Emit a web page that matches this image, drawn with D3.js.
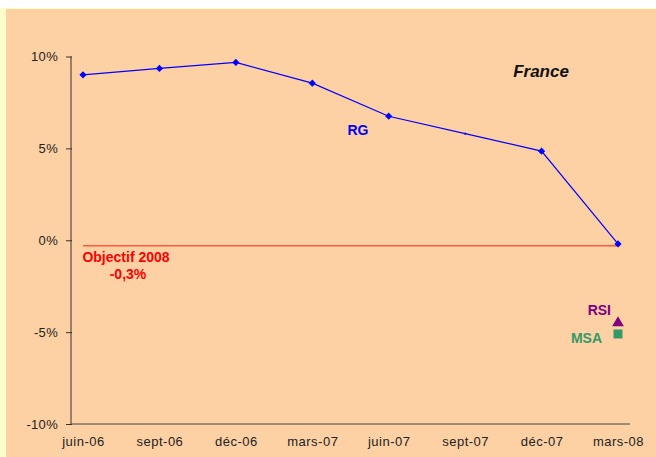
<!DOCTYPE html>
<html>
<head>
<meta charset="utf-8">
<script src="https://cdn.jsdelivr.net/npm/d3@7"></script>
<style>
  body { margin: 0; background: #fff; }
  text { font-family: "Liberation Sans", Arial, sans-serif; }
</style>
</head>
<body>
<svg width="656" height="457"></svg>
<script>
var months = ["juin-06", "sept-06", "déc-06", "mars-07", "juin-07", "sept-07", "déc-07", "mars-08"];
var rgValues = [9.0, 9.35, 9.68, 8.55, 6.75, 5.8, 4.85, -0.2];
var yTicks = [10, 5, 0, -5, -10];
var objectif = -0.3;
var rsiValue = -4.5;
var msaValue = -5.1;

var svg = d3.select("svg");

// background panels
svg.append("rect").attr("x", 0).attr("y", 8).attr("width", 656).attr("height", 449).attr("fill", "#ffffcc");
svg.append("rect").attr("x", 6).attr("y", 9).attr("width", 650).attr("height", 448).attr("fill", "#fed1a4");

var xScale = d3.scalePoint()
               .domain(months)
               .range([83, 618]);

var yScale = d3.scaleLinear()
               .domain([-10, 10])
               .range([424, 56.5]);

// y axis
var yAxis = d3.axisLeft(yScale)
              .tickValues(yTicks)
              .tickSize(5)
              .tickPadding(8)
              .tickFormat(function(d) { return d + "%"; });

var gy = svg.append("g")
            .attr("transform", "translate(71,0)")
            .call(yAxis);
gy.select(".domain").attr("stroke", "#333").attr("d", "M0," + yScale(10) + "V" + yScale(-10));
gy.selectAll(".tick line").attr("stroke", "#333").attr("x2", -5).attr("x1", 1);
gy.selectAll(".tick text").attr("font-size", 13).attr("fill", "#222").attr("letter-spacing", 0.3);

// x axis
var xAxis = d3.axisBottom(xScale).tickSize(0).tickPadding(13);
var gx = svg.append("g")
            .attr("transform", "translate(0," + yScale(-10) + ")")
            .call(xAxis);
gx.select(".domain").attr("stroke", "#444").attr("d", "M71,0H630");
gx.selectAll(".tick text").attr("font-size", 13).attr("fill", "#222").attr("letter-spacing", 0.5);

// objectif line
svg.append("line")
   .attr("x1", xScale(months[0]))
   .attr("x2", xScale(months[months.length - 1]))
   .attr("y1", yScale(objectif))
   .attr("y2", yScale(objectif))
   .attr("stroke", "#ff5a3c")
   .attr("stroke-width", 1.5);

svg.append("text")
   .attr("x", 126).attr("y", 262)
   .attr("text-anchor", "middle")
   .attr("font-size", 14).attr("font-weight", "bold")
   .attr("fill", "#ff0000")
   .text("Objectif 2008");
svg.append("text")
   .attr("x", 128).attr("y", 279)
   .attr("text-anchor", "middle")
   .attr("font-size", 14).attr("font-weight", "bold")
   .attr("fill", "#ff0000")
   .text("-0,3%");

// RG line
var line = d3.line()
             .x(function(d, i) { return xScale(months[i]); })
             .y(function(d) { return yScale(d); });

svg.append("path")
   .datum(rgValues)
   .attr("d", line)
   .attr("fill", "none")
   .attr("stroke", "#0000ff")
   .attr("stroke-width", 1.2);

svg.selectAll(".marker")
   .data(rgValues)
   .enter().append("path")
   .attr("class", "marker")
   .attr("d", function(d, i) {
     return d3.symbol().type(d3.symbolSquare).size(months[i] === "sept-07" ? 4 : 26)();
   })
   .attr("transform", function(d, i) {
     return "translate(" + xScale(months[i]) + "," + yScale(d) + ") rotate(45)";
   })
   .attr("fill", "#0000ff");

svg.append("text")
   .attr("x", 358).attr("y", 135)
   .attr("text-anchor", "middle")
   .attr("font-size", 14).attr("font-weight", "bold")
   .attr("fill", "#0000ff")
   .text("RG");

// RSI / MSA
var lastX = xScale(months[months.length - 1]);
svg.append("path")
   .attr("d", d3.symbol().type(d3.symbolTriangle).size(60)())
   .attr("transform", "translate(" + lastX + "," + yScale(rsiValue) + ")")
   .attr("fill", "#800080");
svg.append("rect")
   .attr("x", lastX - 4.5).attr("y", yScale(msaValue) - 4.5)
   .attr("width", 9).attr("height", 9)
   .attr("fill", "#339966");

svg.append("text")
   .attr("x", 611).attr("y", 315)
   .attr("text-anchor", "end")
   .attr("font-size", 14).attr("font-weight", "bold")
   .attr("fill", "#800080")
   .text("RSI");
svg.append("text")
   .attr("x", 602).attr("y", 343)
   .attr("text-anchor", "end")
   .attr("font-size", 14).attr("font-weight", "bold")
   .attr("fill", "#339966")
   .text("MSA");

svg.append("text")
   .attr("x", 541).attr("y", 77)
   .attr("text-anchor", "middle")
   .attr("font-size", 17).attr("font-weight", "bold").attr("font-style", "italic")
   .attr("fill", "#111")
   .text("France");
</script>
</body>
</html>
